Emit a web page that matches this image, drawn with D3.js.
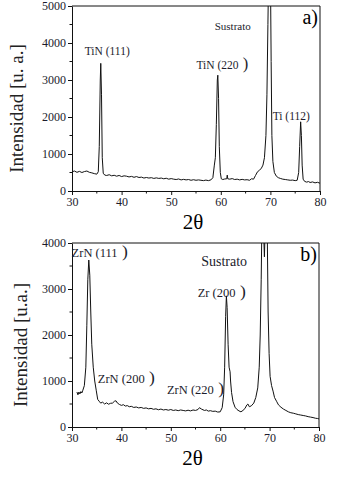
<!DOCTYPE html>
<html>
<head>
<meta charset="utf-8">
<script src="https://cdn.jsdelivr.net/npm/d3@7"></script>
<style>
	body { margin: 0; background: #fff; }
	svg text { font-family: "Liberation Serif", "DejaVu Serif", serif; }
	.axis path, .axis line { stroke: #111; }
	.axis text { fill: #1c1c2c; }
</style>
</head>
<body>
<div id="chart"></div>
<script>
// panel a) TiN on substrate  [2theta, intensity]
const tinScan = [
	[30, 520], [30.5, 540], [31, 505], [31.5, 530], [32, 500], [32.5, 525], [33, 540], [33.5, 505],
	[34, 490], [34.5, 470], [35, 455], [35.3, 520], [35.5, 1200], [35.7, 3000], [35.8, 3450],
	[35.95, 2600], [36.1, 900], [36.3, 480], [36.6, 430], [37, 420], [37.5, 440], [38, 410],
	[38.5, 425], [39, 400], [39.5, 420], [40, 390], [40.5, 410], [41, 400], [41.5, 380], [42, 395],
	[42.5, 370], [43, 390], [43.5, 365], [44, 375], [44.5, 350], [45, 365], [45.5, 350], [46, 360],
	[46.5, 340], [47, 355], [47.5, 340], [48, 350], [48.5, 330], [49, 345], [49.5, 320], [50, 335],
	[50.5, 320], [51, 310], [51.5, 325], [52, 300], [52.5, 315], [53, 300], [53.5, 310], [54, 290],
	[54.5, 305], [55, 290], [55.5, 300], [56, 290], [56.5, 280], [57, 295], [57.5, 280], [58, 300],
	[58.4, 360], [58.7, 700], [58.9, 900], [59.1, 1800], [59.3, 3000], [59.4, 3130], [59.55, 2500],
	[59.7, 1200], [59.9, 500], [60.1, 330], [60.4, 310], [60.8, 325], [61.2, 330], [61.3, 430],
	[61.4, 330], [61.8, 320], [62.3, 335], [62.8, 310], [63.3, 320], [63.8, 300], [64.3, 315],
	[64.8, 300], [65.3, 305], [65.8, 290], [66.2, 330], [66.6, 320], [67, 420], [67.4, 520],
	[67.8, 560], [68.2, 620], [68.5, 700], [68.8, 900], [69.1, 1500], [69.3, 2600], [69.5, 4500],
	[69.65, 6000], [69.8, 6500], [70, 6000], [70.15, 3500], [70.3, 1500], [70.5, 800], [70.8, 500],
	[71.2, 400], [71.6, 360], [72, 340], [72.5, 320], [73, 310], [73.5, 300], [74, 290], [74.5, 295],
	[75, 280], [75.4, 290], [75.7, 500], [75.9, 1200], [76.1, 1870], [76.25, 1500], [76.4, 700],
	[76.6, 320], [76.9, 260], [77.3, 240], [77.7, 255], [78, 230], [78.5, 245], [79, 220],
	[79.5, 235], [80, 210]
];

// panel b) ZrN on substrate
const zrnScan = [
	[31, 760], [31.2, 700], [31.4, 760], [31.6, 720], [31.8, 770], [32, 740], [32.2, 800],
	[32.5, 900], [32.8, 1300], [33, 2200], [33.2, 3200], [33.4, 3630], [33.6, 3300], [33.8, 2500],
	[34, 1800], [34.3, 1300], [34.6, 1000], [34.9, 800], [35.2, 600], [35.5, 560], [35.8, 520],
	[36.2, 540], [36.6, 500], [37, 525], [37.4, 495], [37.8, 515], [38.2, 520], [38.6, 560],
	[38.9, 570], [39.2, 520], [39.6, 490], [40, 470], [40.4, 485], [40.8, 455], [41.2, 465],
	[41.6, 440], [42, 450], [42.5, 425], [43, 435], [43.5, 415], [44, 425], [44.5, 405], [45, 415],
	[45.5, 395], [46, 405], [46.5, 385], [47, 395], [47.5, 375], [48, 390], [48.5, 370], [49, 380],
	[49.5, 365], [50, 380], [50.5, 360], [51, 370], [51.5, 355], [52, 370], [52.5, 360], [53, 350],
	[53.5, 365], [54, 350], [54.5, 370], [55, 360], [55.5, 380], [55.8, 420], [56.2, 390],
	[56.8, 360], [57.2, 370], [57.6, 345], [58, 355], [58.5, 340], [59, 345], [59.5, 325],
	[60, 330], [60.4, 420], [60.7, 700], [60.9, 1300], [61.1, 2400], [61.25, 2850], [61.4, 2600],
	[61.6, 1800], [61.8, 1300], [62, 1200], [62.1, 1000], [62.3, 750], [62.6, 550], [63, 430],
	[63.4, 380], [63.8, 350], [64.2, 330], [64.6, 360], [65, 400], [65.4, 480], [65.6, 500],
	[65.9, 440], [66.3, 460], [66.8, 520], [67.2, 640], [67.6, 850], [67.9, 1300], [68.1, 2000],
	[68.3, 3200], [68.45, 4500], [68.6, 5000], [68.8, 4200], [68.95, 3700], [69.1, 4300],
	[69.3, 5200], [69.5, 4500], [69.7, 2500], [69.9, 1600], [70.1, 1100], [70.4, 900], [70.7, 780],
	[71, 640], [71.4, 560], [71.8, 480], [72.3, 430], [72.8, 390], [73.3, 360], [73.8, 330],
	[74.3, 310], [74.8, 300], [75.3, 285], [75.8, 270], [76.3, 260], [76.8, 250], [77.3, 240],
	[77.8, 225], [78.3, 215], [78.8, 205], [79.3, 190], [79.7, 185], [80, 175]
];

const xTicks = [30, 40, 50, 60, 70, 80];
const yTicksA = [0, 1000, 2000, 3000, 4000, 5000];
const yTicksB = [0, 1000, 2000, 3000, 4000];

// peak labels: [text, 2theta, intensity, closing paren]
const peaksA = [
	["TiN (111)", 37.1, 3680, ""],
	["TiN (220", 60.3, 3300, " )"],
	["Sustrato", 62.4, 4350, ""],
	["Ti (112)", 74.2, 1930, ""]
];
const peaksB = [
	["ZrN (111", 35.6, 3700, " )"],
	["ZrN (200", 41.0, 950, " )"],
	["ZrN (220", 55.0, 710, " )"],
	["Sustrato", 60.8, 3500, ""],
	["Zr (200", 60.3, 2830, " )"]
];

const W = 342, H = 491;
const svg = d3.select("#chart").append("svg")
	.attr("width", W)
	.attr("height", H);

function drawPanel(opts) {
	const x = d3.scaleLinear().domain([30, 80]).range([opts.left, opts.right]);
	const y = d3.scaleLinear().domain([0, opts.yMax]).range([opts.bottom, opts.top]);

	const g = svg.append("g");
	const clipId = "clip-" + opts.tag;
	g.append("clipPath").attr("id", clipId)
		.append("rect")
		.attr("x", opts.left).attr("y", opts.top)
		.attr("width", opts.right - opts.left).attr("height", opts.bottom - opts.top);

	// minor ticks
	const minorX = d3.range(35, 80, 10);
	const minorY = d3.range(500, opts.yMax, 1000);
	g.append("g").attr("class", "axis")
		.selectAll("line").data(minorX).enter().append("line")
		.attr("x1", d => x(d)).attr("x2", d => x(d))
		.attr("y1", opts.bottom).attr("y2", opts.bottom + 2.5);
	g.append("g").attr("class", "axis")
		.selectAll("line").data(minorY).enter().append("line")
		.attr("x1", opts.left).attr("x2", opts.left - 2.5)
		.attr("y1", d => y(d)).attr("y2", d => y(d));

	g.append("g")
		.attr("class", "axis x")
		.attr("transform", `translate(0, ${opts.bottom})`)
		.call(d3.axisBottom(x).tickValues(xTicks).tickFormat(d3.format("d")).tickSize(4).tickSizeOuter(0).tickPadding(2))
		.attr("font-family", null)
		.call(s => s.selectAll("text").style("font-size", "12px"));

	g.append("g")
		.attr("class", "axis y")
		.attr("transform", `translate(${opts.left}, 0)`)
		.call(d3.axisLeft(y).tickValues(opts.yTicks).tickFormat(d3.format("d")).tickSize(4).tickSizeOuter(0).tickPadding(2))
		.attr("font-family", null)
		.call(s => s.selectAll("text").style("font-size", "12px"));

	// top / right frame
	g.append("path")
		.attr("d", `M${opts.left},${opts.top}H${opts.right}V${opts.bottom}`)
		.attr("fill", "none").attr("stroke", "#111");

	const line = d3.line().x(d => x(d[0])).y(d => y(d[1]));
	g.append("path")
		.datum(opts.data)
		.attr("clip-path", `url(#${clipId})`)
		.attr("d", line)
		.attr("fill", "none")
		.attr("stroke", "#111")
		.attr("stroke-width", 1)
		.attr("stroke-linejoin", "round");

	// peak labels
	opts.peaks.forEach(p => {
		const t = g.append("text")
			.attr("x", x(p[1])).attr("y", y(p[2]))
			.attr("text-anchor", "middle")
			.style("font-size", (p[0] === "Sustrato" ? opts.subSize : opts.labelSize) + "px")
			.attr("fill", "#1c1c2c");
		t.append("tspan").text(p[0]);
		if (p[3]) t.append("tspan").text(p[3]).style("font-size", (opts.labelSize + 5) + "px");
	});

	g.append("text")
		.attr("x", opts.right - 2).attr("y", opts.top + 18)
		.attr("text-anchor", "end")
		.style("font-size", "20px")
		.text(opts.tag + ")");

	g.append("text")
		.attr("x", (opts.left + opts.right) / 2 - 3).attr("y", opts.bottom + 38)
		.attr("text-anchor", "middle")
		.style("font-size", "21px")
		.text("2θ");

	g.append("text")
		.attr("transform", `translate(${opts.ylabX}, ${(opts.top + opts.bottom) / 2 + 10}) rotate(-90)`)
		.attr("text-anchor", "middle")
		.style("font-size", "19px")
		.attr("fill", "#222")
		.text(opts.ylab);
}

drawPanel({
	tag: "a", data: tinScan, peaks: peaksA, yMax: 5000, yTicks: yTicksA,
	left: 72, right: 320, top: 6, bottom: 191, labelSize: 11.5, subSize: 11,
	ylab: "Intensidad  [u. a.]", ylabX: 23
});

drawPanel({
	tag: "b", data: zrnScan, peaks: peaksB, yMax: 4000, yTicks: yTicksB,
	left: 72, right: 319, top: 243, bottom: 427, labelSize: 12.5, subSize: 14,
	ylab: "Intensidad  [u.a.]", ylabX: 27
});
</script>
</body>
</html>
